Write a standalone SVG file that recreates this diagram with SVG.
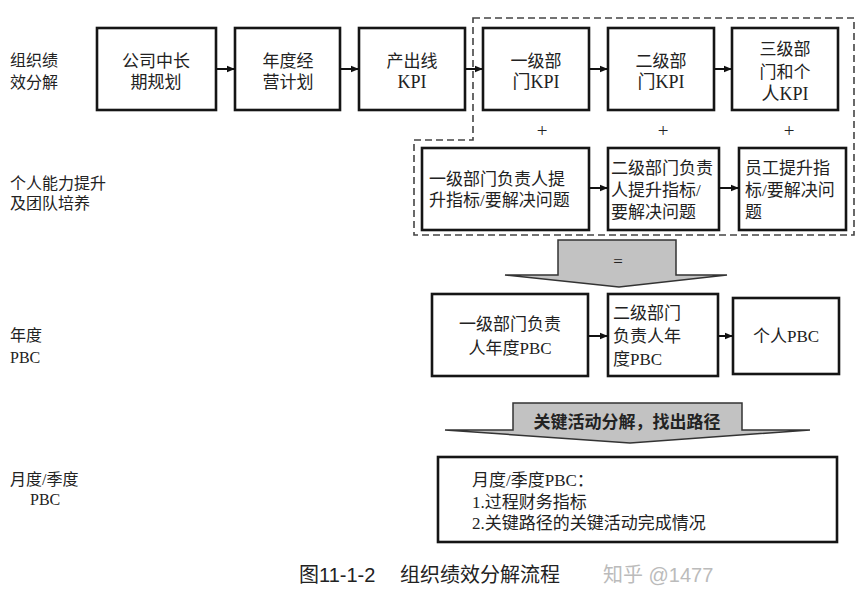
<svg xmlns="http://www.w3.org/2000/svg" width="864" height="603" viewBox="0 0 864 603">
<defs>
<marker id="ah" viewBox="0 0 10 10" refX="10" refY="5" markerWidth="5" markerHeight="4" orient="auto" markerUnits="strokeWidth">
<path d="M0,1 L10,5 L0,9 z" fill="#111"/>
</marker>
<style>
.box{fill:#fff;stroke:#151515;stroke-width:2.6}
.t{font-family:"Liberation Serif","Noto Sans CJK SC",serif;font-size:17px;fill:#222}
.c{text-anchor:middle}
.lbl{font-family:"Liberation Serif","Noto Sans CJK SC",serif;font-size:16px;fill:#222}
.conn{stroke:#111;stroke-width:2;fill:none;marker-end:url(#ah)}
.dash{fill:none;stroke:#444;stroke-width:1.6;stroke-dasharray:7,4}
.big{fill:#c2c2c2;stroke:#333;stroke-width:1.5}
.cap{font-family:"Liberation Sans","Noto Sans CJK SC",sans-serif;font-size:20px;fill:#222}
</style>
</defs>
<rect width="864" height="603" fill="#fff"/>

<g id="labels">
<text class="lbl" x="10" y="66">组织绩</text>
<text class="lbl" x="10" y="88">效分解</text>
<text class="lbl" x="10" y="189">个人能力提升</text>
<text class="lbl" x="10" y="209">及团队培养</text>
<text class="lbl" x="10" y="341">年度</text>
<text class="lbl" x="10" y="363">PBC</text>
<text class="lbl" x="10" y="485">月度/季度</text>
<text class="lbl" x="30" y="505">PBC</text>
</g>

<path id="dashed-group" class="dash" d="M473,18 H854 V235 H414 V140 H473 Z"/>

<g id="n1"><rect class="box" x="97" y="28" width="119" height="82"/><text class="t c" x="156" y="67">公司中长</text><text class="t c" x="156" y="88">期规划</text></g>
<g id="n2"><rect class="box" x="235" y="28" width="105" height="82"/><text class="t c" x="288" y="67">年度经</text><text class="t c" x="288" y="88">营计划</text></g>
<g id="n3"><rect class="box" x="359" y="28" width="106" height="82"/><text class="t c" x="412" y="67">产出线</text><text class="t c" x="412" y="88" style="font-size:18px">KPI</text></g>
<g id="n4"><rect class="box" x="483" y="28" width="106" height="82"/><text class="t c" x="536" y="67">一级部</text><text class="t c" x="536" y="88" style="font-size:18px">门KPI</text></g>
<g id="n5"><rect class="box" x="608" y="28" width="106" height="82"/><text class="t c" x="661" y="67">二级部</text><text class="t c" x="661" y="88" style="font-size:18px">门KPI</text></g>
<g id="n6"><rect class="box" x="732" y="28" width="106" height="82"/><text class="t c" x="785" y="55">三级部</text><text class="t c" x="785" y="78">门和个</text><text class="t c" x="785" y="100" style="font-size:18px">人KPI</text></g>

<g id="plus">
<text class="t c" x="542" y="137" style="font-size:19px">+</text>
<text class="t c" x="663" y="137" style="font-size:19px">+</text>
<text class="t c" x="789" y="137" style="font-size:19px">+</text>
</g>

<g id="n7"><rect class="box" x="422" y="148" width="167" height="82"/><text class="t" x="429" y="185">一级部门负责人提</text><text class="t" x="429" y="206">升指标/要解决问题</text></g>
<g id="n8"><rect class="box" x="608" y="148" width="111" height="82"/><text class="t" x="611" y="174">二级部门负责</text><text class="t" x="611" y="196">人提升指标/</text><text class="t" x="611" y="218">要解决问题</text></g>
<g id="n9"><rect class="box" x="739" y="148" width="107" height="82"/><text class="t" x="745" y="174">员工提升指</text><text class="t" x="745" y="196">标/要解决问</text><text class="t" x="745" y="218">题</text></g>

<g id="eq-arrow"><path class="big" d="M558,240 H676 V275 H727 L619,287 L505,275 H558 Z"/><text class="t c" x="618" y="267">=</text></g>

<g id="n10"><rect class="box" x="432" y="294" width="156" height="82"/><text class="t c" x="510" y="330">一级部门负责</text><text class="t c" x="510" y="354">人年度PBC</text></g>
<g id="n11"><rect class="box" x="608" y="294" width="110" height="82"/><text class="t" x="613" y="319">二级部门</text><text class="t" x="613" y="342">负责人年</text><text class="t" x="613" y="365">度PBC</text></g>
<g id="n12"><rect class="box" x="733" y="298" width="106" height="76"/><text class="t c" x="786" y="342">个人PBC</text></g>

<g id="key-arrow"><path class="big" d="M513,403 H742 V430 H810 L630,443 L445,430 H513 Z"/><text class="t c" x="627" y="428" style="font-weight:bold">关键活动分解，找出路径</text></g>

<g id="n13"><rect class="box" x="438" y="457" width="399" height="85"/><text class="t" x="472" y="486">月度/季度PBC：</text><text class="t" x="472" y="508">1.过程财务指标</text><text class="t" x="472" y="529">2.关键路径的关键活动完成情况</text></g>

<g id="connectors">
<line class="conn" x1="216" y1="69" x2="235" y2="69"/>
<line class="conn" x1="340" y1="69" x2="359" y2="69"/>
<line class="conn" x1="465" y1="69" x2="483" y2="69"/>
<line class="conn" x1="589" y1="69" x2="608" y2="69"/>
<line class="conn" x1="714" y1="69" x2="732" y2="69"/>
<line class="conn" x1="589" y1="188" x2="608" y2="188"/>
<line class="conn" x1="719" y1="188" x2="739" y2="188"/>
<line class="conn" x1="588" y1="336" x2="608" y2="336"/>
<line class="conn" x1="718" y1="336" x2="733" y2="336"/>
</g>

<g id="caption">
<text class="cap" x="299" y="582">图11-1-2</text>
<text class="cap" x="400" y="582">组织绩效分解流程</text>
<text class="cap" x="603" y="582" style="fill:#bbb">知乎 @1477</text>
</g>
</svg>
